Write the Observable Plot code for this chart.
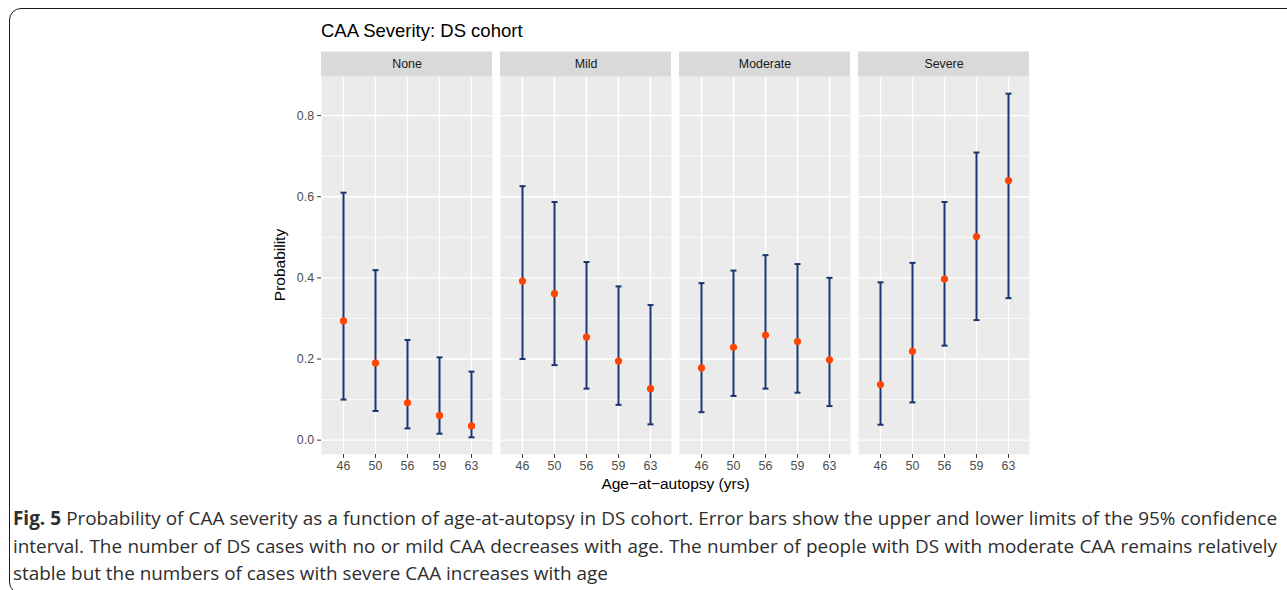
<!DOCTYPE html>
<html>
<head>
<meta charset="utf-8">
<script src="https://cdn.jsdelivr.net/npm/d3@7"></script>
<script src="https://cdn.jsdelivr.net/npm/@observablehq/plot@0.6"></script>
<style>
html, body { margin: 0; padding: 0; overflow: hidden; background: #fff; }
#wrap { position: relative; width: 1287px; height: 590px; overflow: hidden; }
#chart { position: absolute; left: 0; top: 0; }
#title { position: absolute; left: 321px; top: 22px; font: 18.5px/1 "Liberation Sans", Arial, sans-serif; color: #000; white-space: nowrap; }
#xlab { position: absolute; left: 0; width: 1351px; top: 476px; text-align: center; font: 15.5px/1 "Liberation Sans", Arial, sans-serif; color: #000; white-space: nowrap; }
#ylab { position: absolute; left: 280px; top: 265px; transform: translate(-50%, -50%) rotate(-90deg); font: 15.5px/1 "Liberation Sans", Arial, sans-serif; color: #000; white-space: nowrap; }
#caption { position: absolute; left: 13px; top: 505px; width: 1264px; font: 18.9px/27.5px "Open Sans", "Noto Sans", sans-serif; color: #2e2e2e; }
#caption .j { text-align: justify; text-align-last: justify; white-space: nowrap; }
#caption .l { text-align: left; white-space: nowrap; }
#caption b { font-weight: 700; }
#border { position: absolute; left: 9px; top: 8px; width: 1400px; height: 584px; border: 1.6px solid #1a1a1a; border-radius: 12px; pointer-events: none; }
</style>
</head>
<body>
<div id="wrap">
  <div id="chart"></div>
  <div id="title">CAA Severity: DS cohort</div>
  <div id="ylab">Probability</div>
  <div id="xlab">Age−at−autopsy (yrs)</div>
  <div id="caption">
    <div class="j"><b>Fig. 5</b> Probability of CAA severity as a function of age-at-autopsy in DS cohort. Error bars show the upper and lower limits of the 95% confidence</div>
    <div class="j">interval. The number of DS cases with no or mild CAA decreases with age. The number of people with DS with moderate CAA remains relatively</div>
    <div class="l">stable but the numbers of cases with severe CAA increases with age</div>
  </div>
  <div id="border"></div>
</div>
<script>
const ages = ["46", "50", "56", "59", "63"];
const severities = ["None", "Mild", "Moderate", "Severe"];

const probNone  = [0.294, 0.190, 0.092, 0.061, 0.035];
const lowerNone = [0.100, 0.072, 0.029, 0.016, 0.007];
const upperNone = [0.610, 0.419, 0.247, 0.204, 0.169];

const probMild  = [0.392, 0.361, 0.254, 0.195, 0.127];
const lowerMild = [0.200, 0.185, 0.127, 0.087, 0.039];
const upperMild = [0.626, 0.587, 0.439, 0.379, 0.333];

const probModerate  = [0.178, 0.229, 0.259, 0.243, 0.198];
const lowerModerate = [0.069, 0.109, 0.127, 0.117, 0.084];
const upperModerate = [0.387, 0.418, 0.456, 0.434, 0.400];

const probSevere  = [0.137, 0.219, 0.397, 0.502, 0.640];
const lowerSevere = [0.038, 0.093, 0.233, 0.296, 0.350];
const upperSevere = [0.389, 0.437, 0.587, 0.709, 0.854];

const majorTicks = [0, 0.2, 0.4, 0.6, 0.8];
const minorTicks = [0.1, 0.3, 0.5, 0.7];

const series = {
  None: [probNone, lowerNone, upperNone],
  Mild: [probMild, lowerMild, upperMild],
  Moderate: [probModerate, lowerModerate, upperModerate],
  Severe: [probSevere, lowerSevere, upperSevere]
};
const rows = severities.flatMap(s => ages.map((a, i) => ({
  severity: s, age: a, prob: series[s][0][i], lower: series[s][1][i], upper: series[s][2][i]
})));

const lo = d3.min(rows, d => d.lower), hi = d3.max(rows, d => d.upper);
const pad = (hi - lo) * 0.05;
const yDomain = [lo - pad, hi + pad];

const navy = "#1a3470";
const capSymbol = {
  draw(context, size) {
    const r = Math.sqrt(size / Math.PI);
    context.moveTo(-r, 0);
    context.lineTo(r, 0);
  }
};

const plot = Plot.plot({
  width: 1287,
  height: 500,
  marginLeft: 321,
  marginRight: 257,
  marginTop: 76,
  marginBottom: 46,
  style: { fontFamily: "'Liberation Sans', Arial, sans-serif", fontSize: "12.4px", background: "transparent" },
  fx: { domain: severities, paddingInner: 0.044, paddingOuter: 0, axis: null, label: null },
  x: { type: "point", domain: ages, padding: 0.6, label: null },
  y: { domain: yDomain, label: null },
  marks: [
    Plot.frame({ fill: "#EBEBEB", stroke: null }),
    Plot.gridY(minorTicks, { stroke: "white", strokeOpacity: 1, strokeWidth: 0.7 }),
    Plot.gridY(majorTicks, { stroke: "white", strokeOpacity: 1, strokeWidth: 1.4 }),
    Plot.gridX(ages, { stroke: "white", strokeOpacity: 1, strokeWidth: 1.4 }),
    Plot.ruleY([yDomain[1]], { stroke: "#D9D9D9", strokeWidth: 25, dy: -12.5 }),
    Plot.text(severities, { fx: d => d, text: d => d, frameAnchor: "top", lineAnchor: "middle", dy: -12.5, fill: "#1A1A1A", fontSize: 12.4 }),
    Plot.axisY(majorTicks, { anchor: "left", facetAnchor: "left", tickFormat: d3.format(".1f"), tickSize: 3.9, tickPadding: 3.5, stroke: "#333333", fill: "#4D4D4D", label: null }),
    Plot.axisX(ages, { anchor: "bottom", tickSize: 3.9, tickPadding: 3, stroke: "#333333", fill: "#4D4D4D", label: null }),
    Plot.ruleX(rows, { fx: "severity", x: "age", y1: "lower", y2: "upper", stroke: navy, strokeWidth: 2 }),
    Plot.dot(rows, { fx: "severity", x: "age", y: "lower", symbol: capSymbol, r: 3, fill: "none", stroke: navy, strokeWidth: 2 }),
    Plot.dot(rows, { fx: "severity", x: "age", y: "upper", symbol: capSymbol, r: 3, fill: "none", stroke: navy, strokeWidth: 2 }),
    Plot.dot(rows, { fx: "severity", x: "age", y: "prob", r: 3.6, fill: "#FF4500", stroke: "none" })
  ]
});
document.getElementById("chart").appendChild(plot);
</script>
</body>
</html>
